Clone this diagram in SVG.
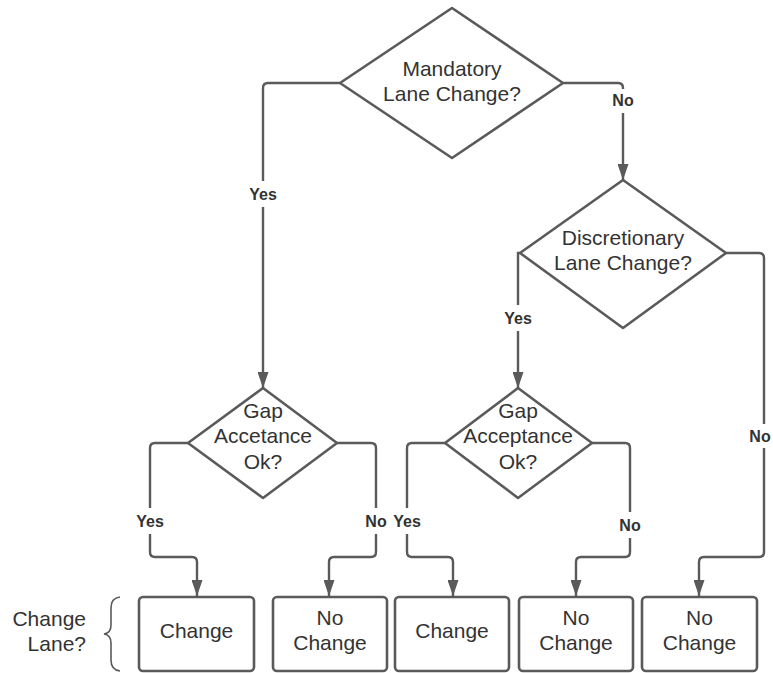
<svg xmlns="http://www.w3.org/2000/svg" width="773" height="673" viewBox="0 0 773 673">
<defs>
<style>
.node{fill:#ffffff;stroke:#5a5a5a;stroke-width:2.6;stroke-linejoin:round}
.conn{fill:none;stroke:#5a5a5a;stroke-width:2.4}
.t{font-family:"Liberation Sans",Arial,sans-serif;font-size:21px;fill:#333333;text-anchor:middle}
.lbl{font-family:"Liberation Sans",Arial,sans-serif;font-size:16px;font-weight:bold;fill:#333333;text-anchor:middle}
.lbg{fill:#ffffff;stroke:none}
</style>
<marker id="arr" viewBox="0 0 16 11" refX="16" refY="5.5" markerWidth="16" markerHeight="11" markerUnits="userSpaceOnUse" orient="auto">
<path d="M0,0 L16,5.5 L0,11 z" fill="#5a5a5a"/>
</marker>
</defs>
<rect width="773" height="673" fill="#ffffff"/>

<g id="connectors">
<path class="conn" d="M340,83 H268 Q263,83 263,88 V388" marker-end="url(#arr)"/>
<path class="conn" d="M563,83 H618 Q623,83 623,88 V180" marker-end="url(#arr)"/>
<path class="conn" d="M520,253 H518 V388" marker-end="url(#arr)"/>
<path class="conn" d="M726,253 H759 Q764,253 764,258 V552 Q764,557 759,557 H704 Q699,557 699,562 V596" marker-end="url(#arr)"/>
<path class="conn" d="M188,443 H155 Q150,443 150,448 V552 Q150,557 155,557 H192 Q197,557 197,562 V596" marker-end="url(#arr)"/>
<path class="conn" d="M337,443 H371 Q376,443 376,448 V552 Q376,557 371,557 H334 Q329,557 329,562 V596" marker-end="url(#arr)"/>
<path class="conn" d="M445,443 H412 Q407,443 407,448 V552 Q407,557 412,557 H448 Q453,557 453,562 V596" marker-end="url(#arr)"/>
<path class="conn" d="M592,443 H625 Q630,443 630,448 V552 Q630,557 625,557 H581 Q576,557 576,562 V596" marker-end="url(#arr)"/>
<g id="connector-labels">
<rect class="lbg" x="247" y="181" width="32" height="26"/>
<text class="lbl" x="263" y="200">Yes</text>
<rect class="lbg" x="611" y="89" width="24" height="24"/>
<text class="lbl" x="623" y="106">No</text>
<rect class="lbg" x="502" y="305" width="32" height="26"/>
<text class="lbl" x="518" y="324">Yes</text>
<rect class="lbg" x="749" y="424" width="24" height="24"/>
<text class="lbl" x="760" y="442">No</text>
<rect class="lbg" x="134" y="508" width="32" height="26"/>
<text class="lbl" x="150" y="527">Yes</text>
<rect class="lbg" x="364" y="508" width="24" height="26"/>
<text class="lbl" x="376" y="527">No</text>
<rect class="lbg" x="391" y="508" width="32" height="26"/>
<text class="lbl" x="407" y="527">Yes</text>
<rect class="lbg" x="618" y="512" width="24" height="26"/>
<text class="lbl" x="630" y="531">No</text>
</g>
</g>

<g id="mandatory">
<path class="node" d="M452,8 L563,83 L452,158 L340,83 Z"/>
<text class="t" x="452" y="76">Mandatory</text>
<text class="t" x="452" y="101">Lane Change?</text>
</g>

<g id="discretionary">
<path class="node" d="M623,180 L726,253 L623,328 L520,253 Z"/>
<text class="t" x="623" y="245">Discretionary</text>
<text class="t" x="623" y="270">Lane Change?</text>
</g>

<g id="gap-accetance">
<path class="node" d="M263,388 L337,443 L263,498 L188,443 Z"/>
<text class="t" x="263" y="418">Gap</text>
<text class="t" x="263" y="443">Accetance</text>
<text class="t" x="263" y="469">Ok?</text>
</g>

<g id="gap-acceptance">
<path class="node" d="M518,388 L592,443 L518,498 L445,443 Z"/>
<text class="t" x="518" y="418">Gap</text>
<text class="t" x="518" y="443">Acceptance</text>
<text class="t" x="518" y="469">Ok?</text>
</g>

<g id="box1">
<rect class="node" x="139" y="597" width="115" height="74" rx="4"/>
<text class="t" x="196.5" y="638">Change</text>
</g>
<g id="box2">
<rect class="node" x="273" y="597" width="114" height="74" rx="4"/>
<text class="t" x="330" y="625">No</text>
<text class="t" x="330" y="650">Change</text>
</g>
<g id="box3">
<rect class="node" x="395" y="597" width="114" height="74" rx="4"/>
<text class="t" x="452" y="638">Change</text>
</g>
<g id="box4">
<rect class="node" x="519" y="597" width="114" height="74" rx="4"/>
<text class="t" x="576" y="625">No</text>
<text class="t" x="576" y="650">Change</text>
</g>
<g id="box5">
<rect class="node" x="642" y="597" width="115" height="74" rx="4"/>
<text class="t" x="699.5" y="625">No</text>
<text class="t" x="699.5" y="650">Change</text>
</g>

<g id="change-lane-label">
<text class="t" x="86" y="626" style="text-anchor:end">Change</text>
<text class="t" x="86" y="651" style="text-anchor:end">Lane?</text>
<path d="M120,597 Q111,598 111,608 V625 Q111,633 104,634 Q111,635 111,643 V660 Q111,670 120,671" fill="none" stroke="#5a5a5a" stroke-width="1.6"/>
</g>
</svg>
